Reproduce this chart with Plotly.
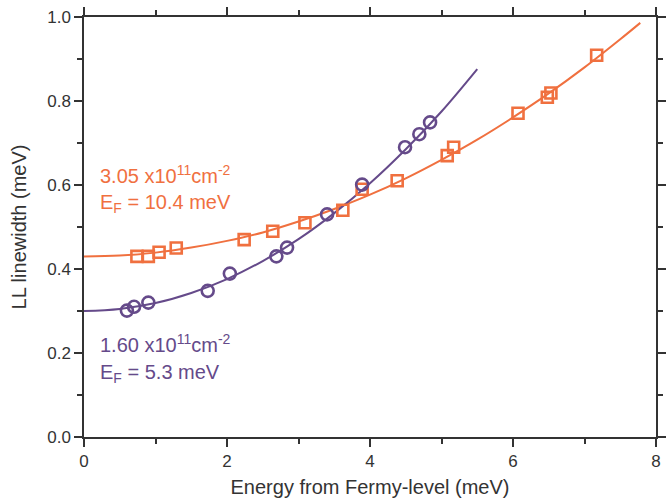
import plotly.graph_objects as go

# Measured Landau-level linewidths vs. energy from the Fermi level
hi_x = [0.74, 0.90, 1.05, 1.29, 2.24, 2.64, 3.09, 3.62, 3.89, 4.38, 5.08, 5.17, 6.07, 6.48, 6.53, 7.17]
hi_y = [0.430, 0.430, 0.440, 0.450, 0.470, 0.490, 0.510, 0.540, 0.590, 0.610, 0.670, 0.690, 0.771, 0.809, 0.819, 0.909]

lo_x = [0.60, 0.70, 0.90, 1.73, 2.04, 2.69, 2.84, 3.40, 3.89, 4.49, 4.69, 4.84]
lo_y = [0.301, 0.310, 0.320, 0.348, 0.389, 0.430, 0.451, 0.530, 0.601, 0.690, 0.721, 0.749]

# Fit curves (sampled)
hi_fit_x = [0, 0.5, 1, 1.5, 2, 2.5, 3, 3.5, 4, 4.5, 5, 5.5, 6, 6.5, 7, 7.5, 7.78]
hi_fit_y = [0.430, 0.432, 0.439, 0.451, 0.467, 0.487, 0.513, 0.543, 0.577, 0.616, 0.660, 0.708, 0.761, 0.818, 0.880, 0.947, 0.986]

lo_fit_x = [0, 0.5, 1, 1.5, 2, 2.5, 3, 3.5, 4, 4.5, 5, 5.5]
lo_fit_y = [0.300, 0.305, 0.319, 0.343, 0.376, 0.419, 0.471, 0.533, 0.604, 0.685, 0.775, 0.876]

ORANGE = "#F0703F"
PURPLE = "#654A8A"
INK = "#333333"
FONT = "Liberation Sans, Arial, sans-serif"

fig = go.Figure()
fig.add_trace(go.Scatter(x=hi_fit_x, y=hi_fit_y, mode="lines", line=dict(color=ORANGE, width=2, shape="spline"),
                         showlegend=False, hoverinfo="skip"))
fig.add_trace(go.Scatter(x=lo_fit_x, y=lo_fit_y, mode="lines", line=dict(color=PURPLE, width=2, shape="spline"),
                         showlegend=False, hoverinfo="skip"))
fig.add_trace(go.Scatter(x=hi_x, y=hi_y, mode="markers",
                         marker=dict(symbol="square-open", size=11, color=ORANGE, line=dict(width=2.6, color=ORANGE)),
                         showlegend=False))
fig.add_trace(go.Scatter(x=lo_x, y=lo_y, mode="markers",
                         marker=dict(symbol="circle-open", size=12, color=PURPLE, line=dict(width=2.6, color=PURPLE)),
                         showlegend=False))

labels = [
    ("3.05 x10<sup>11</sup>cm<sup>-2</sup>", 0.625, ORANGE),
    ("E<sub>F</sub> = 10.4 meV", 0.555, ORANGE),
    ("1.60 x10<sup>11</sup>cm<sup>-2</sup>", 0.222, PURPLE),
    ("E<sub>F</sub> = 5.3 meV", 0.152, PURPLE),
]
for txt, yy, col in labels:
    fig.add_annotation(x=0.2, y=yy, xref="x", yref="y", text=txt, showarrow=False,
                       xanchor="left", yanchor="middle", font=dict(size=20, color=col, family=FONT))

axis_common = dict(showline=True, linecolor=INK, linewidth=1.5, mirror="ticks",
                   ticks="outside", ticklen=8, tickwidth=1.5, tickcolor=INK,
                   showgrid=False, zeroline=False, automargin=False,
                   tickfont=dict(size=17, color=INK, family=FONT))

fig.update_xaxes(range=[0, 8], dtick=2, tick0=0,
                 minor=dict(dtick=1, ticks="outside", ticklen=5, tickwidth=1.5, tickcolor=INK),
                 title=dict(text="Energy from Fermy-level (meV)", font=dict(size=20, color=INK, family=FONT),
                            standoff=10),
                 **axis_common)
fig.update_yaxes(range=[0, 1.0], dtick=0.2, tick0=0, tickformat=".1f",
                 minor=dict(dtick=0.1, ticks="outside", ticklen=5, tickwidth=1.5, tickcolor=INK),
                 title=dict(text="LL linewidth (meV)", font=dict(size=20, color=INK, family=FONT),
                            standoff=15),
                 **axis_common)

fig.update_layout(width=672, height=499, margin=dict(l=84, r=16, t=17, b=62),
                  plot_bgcolor="white", paper_bgcolor="white", font=dict(family=FONT))

fig.write_html("out.html")
